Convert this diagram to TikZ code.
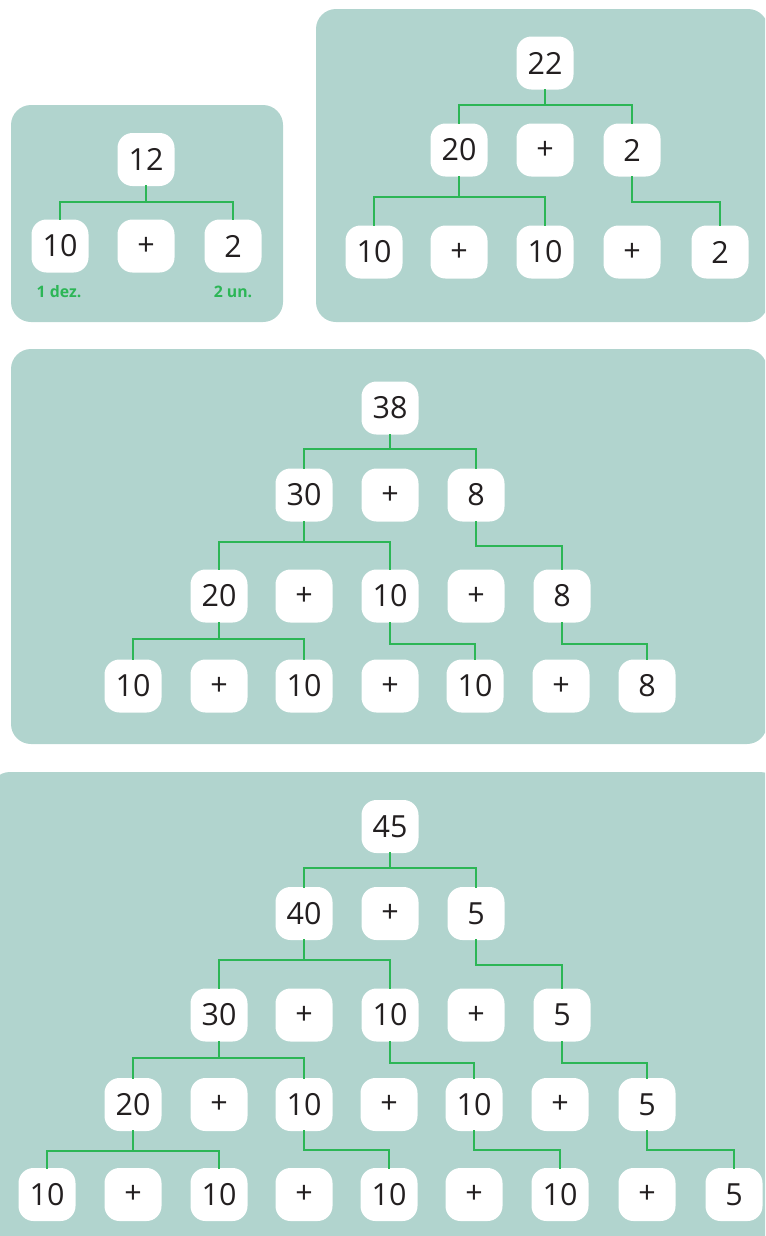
\documentclass[tikz,border=0pt]{standalone}
\usepackage{fontspec}
\setmainfont{Open Sans}
\definecolor{panelbg}{RGB}{177,212,206}
\definecolor{linkgreen}{RGB}{44,182,86}
\definecolor{numink}{RGB}{35,31,32}

\begin{document}
\begin{tikzpicture}[x=0.3mm,y=-0.3mm]
\tikzset{
  panel/.style={fill=panelbg,draw=none,rounded corners=6mm},
  numbox/.style={rectangle,fill=white,draw=none,rounded corners=4.5mm,minimum width=17.1mm,minimum height=15.9mm,inner sep=0pt,text=numink,font=\fontsize{26}{30}\selectfont},
  link/.style={draw=linkgreen,line width=1.5pt,line cap=rect},
  placelabel/.style={text=linkgreen,font=\fontsize{13.5}{16}\selectfont\bfseries}
}
\useasboundingbox (0,0) rectangle (765,1236);
\begin{scope}
\clip (0,0) rectangle (765,1236);
\fill[panel] (11,105) rectangle (283,322);
\fill[panel] (316,9) rectangle (768,322);
\fill[panel] (11,349) rectangle (767,744);
\fill[panel] (-10,772) rectangle (780,1260);
\end{scope}

% 12
\node[numbox] (n_a_0) at (146,159.5) {12};
\node[numbox] (n_a_1) at (60,246) {10};
\node[numbox] (n_a_2) at (146,246) {+};
\node[numbox] (n_a_3) at (233,246) {2};
\node[placelabel] (l_a_1) at (59,292) {1 dez.};
\node[placelabel] (l_a_3) at (233,292) {2 un.};
\draw[link] (n_a_0.south) -- ++(0,16) -| (n_a_1.north);
\draw[link] (n_a_0.south) -- ++(0,16) -| (n_a_3.north);

% 22
\node[numbox] (n_b_0) at (545,63) {22};
\node[numbox] (n_b_1) at (459,150) {20};
\node[numbox] (n_b_2) at (545,150) {+};
\node[numbox] (n_b_3) at (632,150) {2};
\node[numbox] (n_b_4) at (374,252) {10};
\node[numbox] (n_b_5) at (459,252) {+};
\node[numbox] (n_b_6) at (545,252) {10};
\node[numbox] (n_b_7) at (632,252) {+};
\node[numbox] (n_b_8) at (720,252) {2};
\draw[link] (n_b_0.south) -- ++(0,15.5) -| (n_b_1.north);
\draw[link] (n_b_0.south) -- ++(0,15.5) -| (n_b_3.north);
\draw[link] (n_b_1.south) -- ++(0,20.5) -| (n_b_4.north);
\draw[link] (n_b_1.south) -- ++(0,20.5) -| (n_b_6.north);
\draw[link] (n_b_3.south) -- ++(0,25.5) -| (n_b_8.north);

% 38
\node[numbox] (n_c_0) at (390,408) {38};
\node[numbox] (n_c_1) at (304,495) {30};
\node[numbox] (n_c_2) at (390,495) {+};
\node[numbox] (n_c_3) at (476,495) {8};
\node[numbox] (n_c_4) at (219,596) {20};
\node[numbox] (n_c_5) at (304,596) {+};
\node[numbox] (n_c_6) at (390,596) {10};
\node[numbox] (n_c_7) at (476,596) {+};
\node[numbox] (n_c_8) at (562,596) {8};
\node[numbox] (n_c_9) at (133,686) {10};
\node[numbox] (n_c_10) at (219,686) {+};
\node[numbox] (n_c_11) at (304,686) {10};
\node[numbox] (n_c_12) at (390,686) {+};
\node[numbox] (n_c_13) at (475,686) {10};
\node[numbox] (n_c_14) at (561,686) {+};
\node[numbox] (n_c_15) at (647,686) {8};
\draw[link] (n_c_0.south) -- ++(0,14.5) -| (n_c_1.north);
\draw[link] (n_c_0.south) -- ++(0,14.5) -| (n_c_3.north);
\draw[link] (n_c_1.south) -- ++(0,20.5) -| (n_c_4.north);
\draw[link] (n_c_1.south) -- ++(0,20.5) -| (n_c_6.north);
\draw[link] (n_c_3.south) -- ++(0,24.5) -| (n_c_8.north);
\draw[link] (n_c_4.south) -- ++(0,16.5) -| (n_c_9.north);
\draw[link] (n_c_4.south) -- ++(0,16.5) -| (n_c_11.north);
\draw[link] (n_c_6.south) -- ++(0,21.5) -| (n_c_13.north);
\draw[link] (n_c_8.south) -- ++(0,21.5) -| (n_c_15.north);

% 45
\node[numbox] (n_d_0) at (390,826.5) {45};
\node[numbox] (n_d_1) at (304,913.5) {40};
\node[numbox] (n_d_2) at (390,913.5) {+};
\node[numbox] (n_d_3) at (476,913.5) {5};
\node[numbox] (n_d_4) at (219,1015) {30};
\node[numbox] (n_d_5) at (304,1015) {+};
\node[numbox] (n_d_6) at (390,1015) {10};
\node[numbox] (n_d_7) at (476,1015) {+};
\node[numbox] (n_d_8) at (562,1015) {5};
\node[numbox] (n_d_9) at (133,1104.5) {20};
\node[numbox] (n_d_10) at (219,1104.5) {+};
\node[numbox] (n_d_11) at (304,1104.5) {10};
\node[numbox] (n_d_12) at (389,1104.5) {+};
\node[numbox] (n_d_13) at (474,1104.5) {10};
\node[numbox] (n_d_14) at (560,1104.5) {+};
\node[numbox] (n_d_15) at (647,1104.5) {5};
\node[numbox] (n_d_16) at (47,1194.5) {10};
\node[numbox] (n_d_17) at (133,1194.5) {+};
\node[numbox] (n_d_18) at (219,1194.5) {10};
\node[numbox] (n_d_19) at (304,1194.5) {+};
\node[numbox] (n_d_20) at (389,1194.5) {10};
\node[numbox] (n_d_21) at (474,1194.5) {+};
\node[numbox] (n_d_22) at (560,1194.5) {10};
\node[numbox] (n_d_23) at (647,1194.5) {+};
\node[numbox] (n_d_24) at (734,1194.5) {5};
\draw[link] (n_d_0.south) -- ++(0,15) -| (n_d_1.north);
\draw[link] (n_d_0.south) -- ++(0,15) -| (n_d_3.north);
\draw[link] (n_d_1.south) -- ++(0,20) -| (n_d_4.north);
\draw[link] (n_d_1.south) -- ++(0,20) -| (n_d_6.north);
\draw[link] (n_d_3.south) -- ++(0,25) -| (n_d_8.north);
\draw[link] (n_d_4.south) -- ++(0,16) -| (n_d_9.north);
\draw[link] (n_d_4.south) -- ++(0,16) -| (n_d_11.north);
\draw[link] (n_d_6.south) -- ++(0,21.5) -| (n_d_13.north);
\draw[link] (n_d_8.south) -- ++(0,21.5) -| (n_d_15.north);
\draw[link] (n_d_9.south) -- ++(0,20) -| (n_d_16.north);
\draw[link] (n_d_9.south) -- ++(0,20) -| (n_d_18.north);
\draw[link] (n_d_11.south) -- ++(0,19) -| (n_d_20.north);
\draw[link] (n_d_13.south) -- ++(0,19) -| (n_d_22.north);
\draw[link] (n_d_15.south) -- ++(0,19) -| (n_d_24.north);
\end{tikzpicture}
\end{document}
